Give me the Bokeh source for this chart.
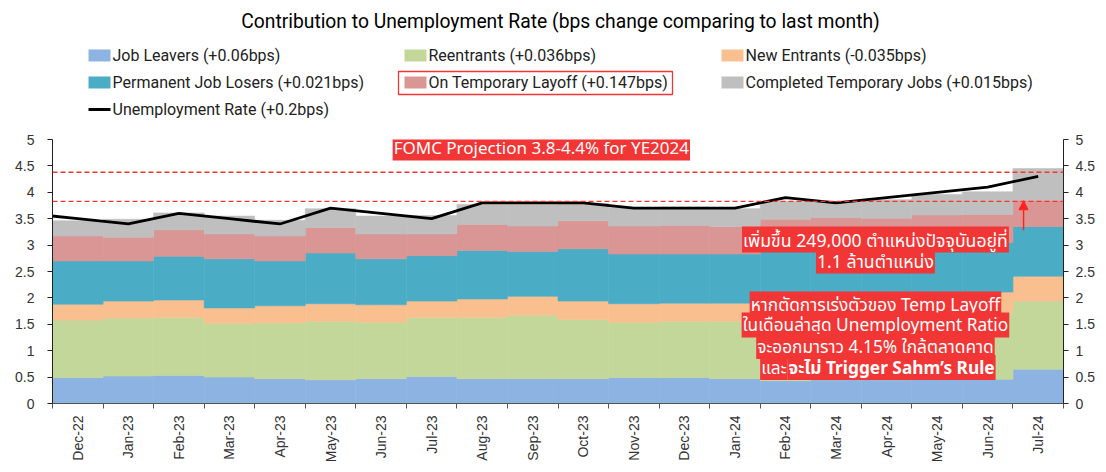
import math
import numpy as np
from bokeh.plotting import figure
from bokeh.layouts import column
from bokeh.models import (Range1d, LinearAxis, FixedTicker, Span, Label, Arrow,
                          NormalHead, ColumnDataSource)
from bokeh.core.properties import value
from bokeh.embed import file_html
from bokeh.resources import INLINE

# ---------------- data ----------------
months = ["Dec-22", "Jan-23", "Feb-23", "Mar-23", "Apr-23", "May-23", "Jun-23",
          "Jul-23", "Aug-23", "Sep-23", "Oct-23", "Nov-23", "Dec-23", "Jan-24",
          "Feb-24", "Mar-24", "Apr-24", "May-24", "Jun-24", "Jul-24"]
job_leavers = [0.49, 0.52, 0.53, 0.50, 0.47, 0.45, 0.47, 0.51, 0.47, 0.47,
               0.47, 0.49, 0.49, 0.47, 0.43, 0.45, 0.45, 0.46, 0.46, 0.65]
reentrants = [1.09, 1.10, 1.10, 1.02, 1.06, 1.11, 1.07, 1.12, 1.16, 1.20,
              1.12, 1.05, 1.07, 1.09, 1.15, 1.15, 1.17, 1.19, 1.26, 1.29]
new_entrants = [0.30, 0.32, 0.33, 0.29, 0.32, 0.33, 0.33, 0.31, 0.35, 0.36,
                0.35, 0.35, 0.34, 0.34, 0.34, 0.35, 0.36, 0.37, 0.39, 0.47]
permanent_job_losers = [0.82, 0.76, 0.83, 0.93, 0.85, 0.96, 0.87, 0.86, 0.92, 0.85,
                        0.99, 0.94, 0.93, 0.93, 0.97, 0.94, 0.94, 0.96, 0.94, 0.94]
temporary_layoff = [0.47, 0.45, 0.50, 0.47, 0.47, 0.48, 0.47, 0.41, 0.49, 0.48,
                    0.53, 0.53, 0.54, 0.52, 0.60, 0.63, 0.59, 0.59, 0.53, 0.50]
completed_temporary = [0.29, 0.34, 0.32, 0.34, 0.30, 0.36, 0.34, 0.35, 0.38, 0.41,
                       0.33, 0.35, 0.35, 0.34, 0.34, 0.30, 0.35, 0.39, 0.43, 0.60]
rate_months = ["Nov-22"] + months
unemployment_rate = [3.6, 3.5, 3.4, 3.6, 3.5, 3.4, 3.7, 3.6, 3.5, 3.8, 3.8,
                     3.8, 3.7, 3.7, 3.7, 3.9, 3.8, 3.9, 4.0, 4.1, 4.3]
fomc_low, fomc_high = 3.83, 4.38
y_ticks = [0, 0.5, 1, 1.5, 2, 2.5, 3, 3.5, 4, 4.5, 5]

series_keys = ["job_leavers", "reentrants", "new_entrants",
               "permanent_job_losers", "temporary_layoff", "completed_temporary"]
legend_labels = ["Job Leavers (+0.06bps)", "Reentrants (+0.036bps)",
                 "New Entrants (-0.035bps)", "Permanent Job Losers (+0.021bps)",
                 "On Temporary Layoff (+0.147bps)",
                 "Completed Temporary Jobs (+0.015bps)"]
rate_label = "Unemployment Rate (+0.2bps)"
colors = ["#8DB3E2", "#C4D79B", "#FABF8F", "#4BACC6", "#D99694", "#BFBFBF"]
title_text = "Contribution to Unemployment Rate (bps change comparing to last month)"

RED = "#F23535"
AXIS_FONT = "Liberation Sans"
HEAD_FONT = "Roboto"
NOTE_FONT = "Noto Sans, Noto Sans Thai, sans-serif"

W, H = 1106, 472
HEAD_H = 128
B_LEFT, B_RIGHT = 52, 43

# ---------------- header (title + legend) ----------------
h = figure(width=W, height=HEAD_H, x_range=Range1d(B_LEFT, W - B_RIGHT),
           y_range=Range1d(HEAD_H, 0),
           x_axis_type=None, y_axis_type=None, output_backend="svg",
           toolbar_location=None, min_border=0, min_border_left=B_LEFT,
           min_border_right=B_RIGHT)
h.outline_line_color = None
h.grid.visible = False

h.text(x=[560], y=[21], text=[title_text], text_align="center",
       text_baseline="middle", text_font=value(HEAD_FONT), text_font_size="19.3px",
       text_color="black")

col_x = [88, 404, 721]
row_y = [55, 82, 109]
sw_x, sw_y, lab_x = [], [], []
for i in range(6):
    sw_x.append(col_x[i % 3] + 11)
    sw_y.append(row_y[i // 3])
    lab_x.append(col_x[i % 3] + 24)
h.rect(x=sw_x, y=sw_y, width=22, height=12, fill_color=colors, line_color=None)
h.text(x=lab_x, y=sw_y, text=legend_labels, text_baseline="middle",
       text_font=value(HEAD_FONT), text_font_size="16px", text_color="#222222")
h.line(x=[col_x[0], col_x[0] + 22], y=[row_y[2], row_y[2]], line_color="black",
       line_width=3)
h.text(x=[col_x[0] + 24], y=[row_y[2]], text=[rate_label], text_baseline="middle",
       text_font=value(HEAD_FONT), text_font_size="16px", text_color="#222222")
h.quad(left=[col_x[1] - 6], right=[col_x[1] + 268], top=[row_y[1] - 11],
       bottom=[row_y[1] + 12], fill_color=None, line_color=RED, line_width=1.3)

# ---------------- main chart ----------------
n = len(months)
src = ColumnDataSource(dict(
    x=np.arange(n) + 0.5,
    job_leavers=job_leavers, reentrants=reentrants, new_entrants=new_entrants,
    permanent_job_losers=permanent_job_losers, temporary_layoff=temporary_layoff,
    completed_temporary=completed_temporary))

p = figure(width=W, height=H - HEAD_H, x_range=Range1d(0, n), y_range=Range1d(0, 5),
           x_axis_type=None, y_axis_type=None, output_backend="svg",
           toolbar_location=None, min_border_left=B_LEFT, min_border_right=B_RIGHT,
           min_border_top=11, min_border_bottom=69)
p.outline_line_color = None
p.grid.visible = False

p.vbar_stack(series_keys, x="x", width=1.0, source=src, fill_color=colors,
             line_color=colors, line_width=0.6)

rate_x = np.arange(len(rate_months)) - 0.5
p.line(x=rate_x, y=unemployment_rate, line_color="black", line_width=2.8)

for lvl in (fomc_low, fomc_high):
    p.add_layout(Span(location=lvl, dimension="width", line_color="#FF3030",
                      line_dash="5 3", line_width=1.3))

# axes
def style_y(ax):
    ax.ticker = FixedTicker(ticks=y_ticks)
    ax.major_label_overrides = {t: ("%g" % t) for t in y_ticks}
    ax.major_label_text_font = AXIS_FONT
    ax.major_label_text_font_size = "14px"
    ax.major_label_text_color = "#333333"
    ax.axis_line_color = "#222222"
    ax.major_tick_line_color = "#222222"
    ax.major_tick_out = 5
    ax.major_tick_in = 0
    ax.minor_tick_line_color = None

yl = LinearAxis()
style_y(yl)
yl.major_label_standoff = 13
p.add_layout(yl, "left")
yr = LinearAxis()
style_y(yr)
yr.major_label_standoff = 7
p.add_layout(yr, "right")

centers = [i + 0.5 for i in range(n)]
xa = LinearAxis()
xa.ticker = FixedTicker(ticks=centers, minor_ticks=list(range(n + 1)))
xa.major_label_overrides = {c: m for c, m in zip(centers, months)}
xa.major_label_orientation = math.pi / 2
xa.major_label_text_font = AXIS_FONT
xa.major_label_text_font_size = "14px"
xa.major_label_text_color = "#333333"
xa.major_label_standoff = 7
xa.major_tick_line_color = None
xa.major_tick_out = 0
xa.major_tick_in = 0
xa.minor_tick_line_color = "#555555"
xa.minor_tick_out = 5
xa.minor_tick_in = 0
xa.axis_line_color = "#555555"
p.add_layout(xa, "below")

# annotations
def note(x, y, txt, align="center", bold=False, size="17px"):
    p.add_layout(Label(x=x, y=y, text=txt, text_align=align, text_baseline="middle",
                       text_color="white", text_font=NOTE_FONT, text_font_size=size,
                       text_font_style="bold" if bold else "normal",
                       background_fill_color=RED, padding=1))

note(9.67, 4.84, "FOMC Projection 3.8-4.4% for YE2024", size="17px")
note(16.28, 3.106, "เพิ่มขึ้น 249,000 ตำแหน่งปัจจุบันอยู่ที่", size="17.7px")
note(16.28, 2.708, "1.1 ล้านตำแหน่ง", size="17.7px")
note(16.28, 1.884, "หากตัดการเร่งตัวของ Temp Layoff", size="17.3px")
note(16.28, 1.487, "ในเดือนล่าสุด Unemployment Ratio", size="17.3px")
note(16.28, 1.080, "จะออกมาราว 4.15% ใกล้ตลาดคาด", size="17.3px")
note(14.54, 0.682, "และ", align="right", size="17.3px")
note(14.54, 0.682, "จะไม่ Trigger Sahm’s Rule", align="left", bold=True, size="17.3px")

p.add_layout(Arrow(end=NormalHead(size=9, fill_color="#FF2020", line_color="#FF2020"),
                   x_start=19.21, y_start=3.28, x_end=19.21, y_end=3.84,
                   line_color="#FF2020", line_width=1.4))

layout = column(h, p, spacing=0)
open("out.html", "w").write(file_html(layout, INLINE))
